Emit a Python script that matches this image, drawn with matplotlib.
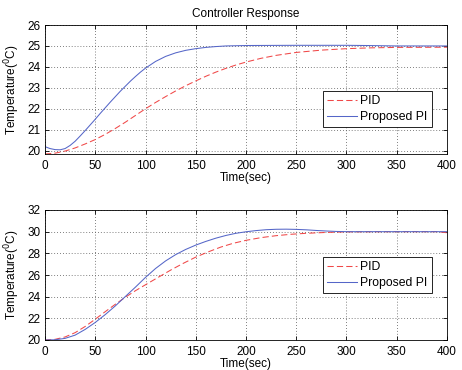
import matplotlib
matplotlib.use("Agg")
import matplotlib.pyplot as plt
import numpy as np

plt.rcParams['font.family'] = ['Liberation Sans', 'DejaVu Sans']

# Top panel data
t1 = [0, 5, 10, 15, 20, 25, 30, 35, 40, 45, 50, 55, 60, 65, 70, 75, 80, 85, 90, 95, 100, 110, 120, 130, 140, 150, 160, 170, 180, 200, 250, 300, 320, 350, 400]
pi1 = [20.19, 20.1, 20.05, 20.04, 20.1, 20.25, 20.45, 20.7, 20.96, 21.23, 21.5, 21.78, 22.05, 22.32, 22.58, 22.84, 23.08, 23.32, 23.54, 23.75, 23.94, 24.26, 24.5, 24.67, 24.79, 24.87, 24.93, 24.97, 25.0, 25.02, 25.03, 25.03, 25.02, 25.0, 25.0]
tp1 = [0, 10, 20, 30, 40, 50, 60, 70, 80, 90, 100, 110, 120, 130, 140, 150, 160, 170, 180, 190, 200, 215, 230, 250, 275, 300, 325, 350, 400]
pid1 = [19.84, 19.88, 19.98, 20.13, 20.32, 20.53, 20.78, 21.06, 21.36, 21.68, 22.0, 22.3, 22.58, 22.85, 23.1, 23.33, 23.55, 23.75, 23.93, 24.09, 24.23, 24.41, 24.55, 24.69, 24.8, 24.87, 24.91, 24.93, 24.94]

# Bottom panel data
t2 = [0, 10, 20, 30, 40, 50, 60, 70, 80, 90, 100, 110, 120, 130, 140, 150, 160, 170, 180, 190, 200, 210, 220, 230, 240, 250, 260, 270, 280, 290, 300, 400]
pi2 = [20.0, 20.02, 20.15, 20.45, 20.98, 21.62, 22.35, 23.15, 24.02, 24.88, 25.78, 26.6, 27.3, 27.88, 28.36, 28.76, 29.1, 29.4, 29.65, 29.85, 29.99, 30.1, 30.18, 30.22, 30.23, 30.21, 30.17, 30.11, 30.06, 30.02, 30.0, 30.0]
tp2 = [0, 10, 20, 30, 40, 50, 60, 70, 80, 90, 100, 112, 125, 137, 150, 162, 175, 187, 200, 215, 230, 245, 260, 280, 300, 350, 390, 400]
pid2 = [20.0, 20.06, 20.28, 20.68, 21.25, 21.92, 22.62, 23.3, 23.95, 24.55, 25.1, 25.75, 26.45, 27.05, 27.65, 28.12, 28.58, 28.92, 29.2, 29.45, 29.63, 29.76, 29.85, 29.93, 29.98, 30.0, 30.0, 29.9]

labels = ['PID', 'Proposed PI']
red = '#f04848'
blue = '#5566c8'
dash = (0, (6, 3))

fig = plt.figure(figsize=(4.62, 3.70), dpi=100)
ax1 = fig.add_axes([45/462, 1-154/370, 402/462, 129/370])
ax2 = fig.add_axes([45/462, 1-340/370, 402/462, 130/370])

def style(ax, ylim, yticks):
    ax.set_xlim(0, 400)
    ax.set_ylim(*ylim)
    ax.set_xticks(np.arange(0, 401, 50))
    ax.set_yticks(yticks)
    ax.grid(True, linestyle=(0, (1, 2.5)), color='#555555', linewidth=0.6)
    ax.tick_params(direction='in', length=3, labelsize=8.5, width=0.6, top=True, right=True)
    ax.tick_params(axis='x', pad=4)
    ax.tick_params(axis='y', pad=3)
    for s in ax.spines.values():
        s.set_linewidth(0.6)
    ax.set_xlabel('Time(sec)', fontsize=8.5, labelpad=0)
    ax.set_ylabel('Temperature($^{0}$C)', fontsize=8.5, labelpad=4)

def add_legend(ax, top_px, ax_top_px, ax_h):
    leg = ax.legend(loc='upper right', bbox_to_anchor=((432-45)/402, 1-(top_px-ax_top_px)/ax_h),
                    fontsize=8.8, fancybox=False, edgecolor='black', framealpha=1,
                    handlelength=2.4, borderpad=0.35, labelspacing=0.3, handletextpad=0.3,
                    borderaxespad=0)
    leg.get_frame().set_linewidth(0.6)

ax1.plot(tp1, pid1, linestyle=dash, color=red, linewidth=0.75, label=labels[0])
ax1.plot(t1, pi1, '-', color=blue, linewidth=0.75, label=labels[1])
style(ax1, (19.84, 26), [20, 21, 22, 23, 24, 25, 26])
ax1.set_title('Controller Response', fontsize=8.5, pad=6)
add_legend(ax1, 91, 25, 129)

ax2.plot(tp2, pid2, linestyle=dash, color=red, linewidth=0.75, label=labels[0])
ax2.plot(t2, pi2, '-', color=blue, linewidth=0.75, label=labels[1])
style(ax2, (20, 32), [20, 22, 24, 26, 28, 30, 32])
add_legend(ax2, 257, 210, 130)

fig.savefig('out.png', dpi=100)
